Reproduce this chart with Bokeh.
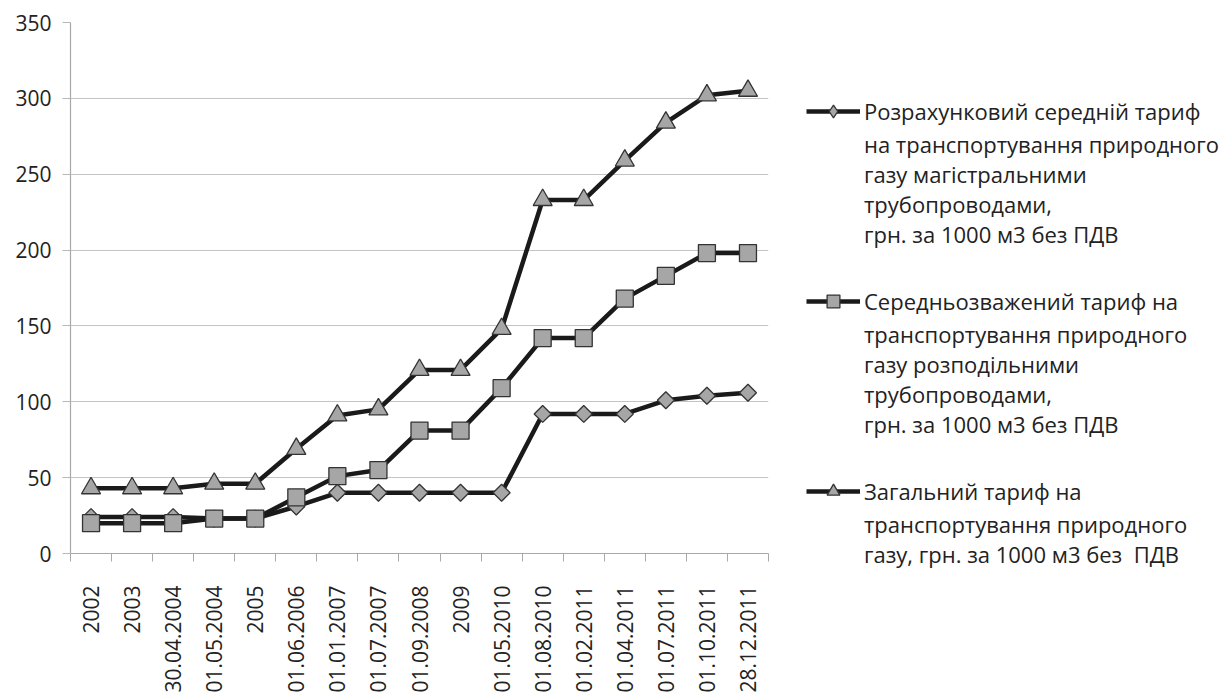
import math
from bokeh.plotting import figure
from bokeh.models import ColumnDataSource, Range1d, FixedTicker, Legend, LegendItem
from bokeh.embed import file_html
from bokeh.resources import INLINE

categories = ["2002", "2003", "30.04.2004", "01.05.2004", "2005", "01.06.2006",
              "01.01.2007", "01.07.2007", "01.09.2008", "2009", "01.05.2010",
              "01.08.2010", "01.02.2011", "01.04.2011", "01.07.2011", "01.10.2011",
              "28.12.2011"]
tariff_trunk = [24, 24, 24, 23, 23, 31, 40, 40, 40, 40, 40, 92, 92, 92, 101, 104, 106]
tariff_distribution = [20, 20, 20, 23, 23, 37, 51, 55, 81, 81, 109, 142, 142, 168, 183, 198, 198]
tariff_total = [43, 43, 43, 46, 46, 69, 91, 95, 121, 121, 148, 233, 233, 259, 284, 302, 305]
y_ticks = [0, 50, 100, 150, 200, 250, 300, 350]
series_labels = [
    ["Розрахунковий середній тариф", "на транспортування природного",
     "газу магістральними", "трубопроводами,", "грн. за 1000 м3 без ПДВ"],
    ["Середньозважений тариф на", "транспортування природного",
     "газу розподільними", "трубопроводами,", "грн. за 1000 м3 без ПДВ"],
    ["Загальний тариф на", "транспортування природного",
     "газу, грн. за 1000 м3 без  ПДВ"],
]

FONT = "Open Sans"
FRAME_W, FRAME_H = 698, 531
BORDER_L, BORDER_T = 70, 22
TOTAL_W = 1229
idx = list(range(len(categories)))
src = ColumnDataSource(dict(x=idx, trunk=tariff_trunk, dist=tariff_distribution, total=tariff_total))

p = figure(frame_width=FRAME_W, frame_height=FRAME_H, output_backend="svg", toolbar_location=None,
           x_range=Range1d(-0.5, len(categories) - 0.5), y_range=Range1d(0, 350),
           min_border_left=BORDER_L, min_border_top=BORDER_T, min_border_bottom=0,
           min_border_right=TOTAL_W - BORDER_L - FRAME_W)
p.outline_line_color = None
p.background_fill_color = "white"
p.border_fill_color = "white"

# grid & axes
p.xgrid.grid_line_color = None
p.ygrid.grid_line_color = "#c4c4c4"
p.ygrid.grid_line_width = 1.2
p.yaxis.ticker = FixedTicker(ticks=y_ticks)
p.xaxis.ticker = FixedTicker(ticks=idx, minor_ticks=[i - 0.5 for i in idx] + [len(idx) - 0.5])
p.xaxis.major_label_overrides = {i: c for i, c in zip(idx, categories)}
p.xaxis.major_label_orientation = math.pi / 2

for ax in (p.xaxis, p.yaxis):
    ax.axis_line_color = "#a8a8a8"
    ax.axis_line_width = 1.2
    ax.major_label_text_font = FONT
    ax.major_label_text_color = "#222222"
p.yaxis.major_tick_out = 8
p.yaxis.major_tick_in = 0
p.yaxis.major_tick_line_color = "#b8b8b8"
p.yaxis.minor_tick_line_color = None
p.yaxis.major_label_text_font_size = "21px"
p.yaxis.major_label_standoff = 11
p.xaxis.major_tick_line_color = None
p.xaxis.minor_tick_out = 8
p.xaxis.minor_tick_in = 0
p.xaxis.minor_tick_line_color = "#a8a8a8"
p.xaxis.major_label_text_font_size = "21px"
p.xaxis.major_label_standoff = 24

LINE = "#1a1a1a"
FILL = "#a6a6a6"
EDGE = "#333333"

# (column, plot marker, size, angle, legend-key marker or None)
specs = [("trunk", "square", 12, math.pi / 4, "diamond"),
         ("dist", "square", 17, 0, None),
         ("total", "triangle", 19, 0, None)]

# invisible helper renderer for continuation lines / spacers of the legend
blank = p.line(x=[], y=[], line_alpha=0)

FS = 22
LH = 1.39
PITCH = FS * LH
GLYPH_H = 32
SPACING = 2
FIRST_CENTER = 105            # page y of the first legend text line
frame_bottom = BORDER_T + FRAME_H

items = []
heights = []
for n, ((col, marker, size, ang, lmarker), lines) in enumerate(zip(specs, series_labels)):
    lr = p.line("x", col, source=src, line_color=LINE, line_width=4.5)
    key = None
    if lmarker:
        # legend key shape (sits fully underneath the rotated-square markers)
        key = p.scatter("x", col, source=src, marker=lmarker, size=13,
                        fill_color=FILL, line_color=EDGE, line_width=1.3)
    sr = p.scatter("x", col, source=src, marker=marker, size=size, angle=ang,
                   fill_color=FILL, line_color=EDGE, line_width=1.3)
    if n > 0:
        items.append(LegendItem(label=" ", renderers=[blank]))
        heights.append(max(GLYPH_H, PITCH))
    items.append(LegendItem(label=lines[0], renderers=[lr, key if key is not None else sr]))
    heights.append(max(GLYPH_H, PITCH))
    items.append(LegendItem(label="\n".join(lines[1:]), renderers=[blank]))
    heights.append(PITCH * (len(lines) - 1))

leg = Legend(items=items, orientation="vertical")
leg.border_line_color = None
leg.background_fill_alpha = 0
leg.label_text_font = FONT
leg.label_text_font_size = f"{FS}px"
leg.label_text_line_height = LH
leg.label_text_color = "#222222"
leg.glyph_width = 54
leg.glyph_height = GLYPH_H
leg.label_standoff = 4
leg.spacing = SPACING
leg.padding = 0
leg.margin = 0
total_h = sum(heights) + SPACING * (len(items) - 1)
top = FIRST_CENTER - GLYPH_H / 2
leg.location = (38, frame_bottom - (top + total_h))
p.add_layout(leg, "right")

open("out.html", "w").write(file_html(p, INLINE))
